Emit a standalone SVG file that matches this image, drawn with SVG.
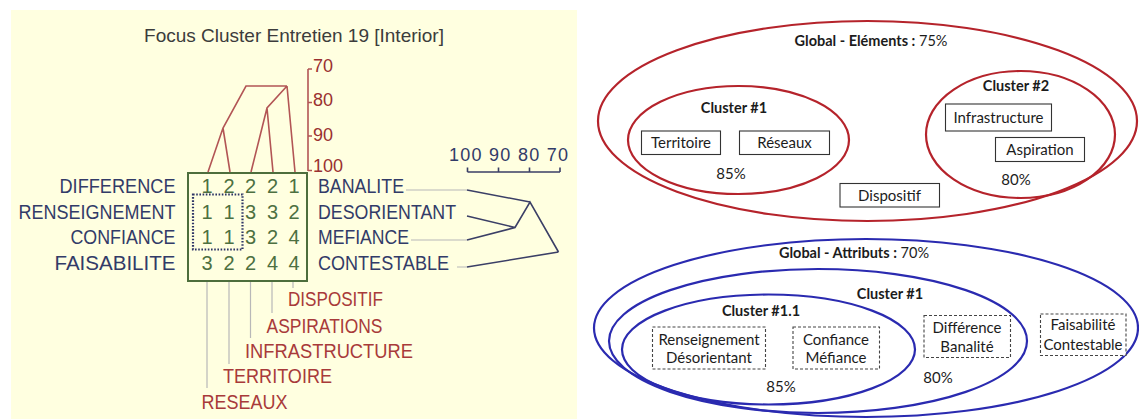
<svg xmlns="http://www.w3.org/2000/svg" width="1139" height="419" viewBox="0 0 1139 419">
<style>
.lt{font-family:"Liberation Sans",Arial,sans-serif;font-size:20px}
.ax{font-family:"Liberation Sans",Arial,sans-serif;font-size:18px}
.nav{fill:#323b68}
.grn{fill:#4d7040}
.red{fill:#a83a3a}
.axr{fill:#9a3030}
.dr{stroke:#b25555;stroke-width:1.6;fill:none}
.dn{stroke:#3b3f66;stroke-width:1.6;fill:none}
.gl{stroke:#b8b8b8;stroke-width:1.2;fill:none}
.rt{font-family:Lato,"Open Sans",sans-serif;font-size:15px;fill:#1c1c1c}
.hd{font-size:14.5px}
.b{font-weight:bold}
.er{fill:none;stroke:#b5232b;stroke-width:2.2}
.eb{fill:none;stroke:#2a2ab0;stroke-width:2.2}
.bx{fill:#fff;stroke:#333;stroke-width:1.1}
.dbx{fill:#fff;stroke:#444;stroke-width:1.1;stroke-dasharray:3 2}
</style>
<rect x="11" y="10" width="566" height="409" fill="#ffffe0"/>
<text x="294" y="42" text-anchor="middle" font-family="Liberation Sans, Arial, sans-serif" font-size="19" fill="#3c3c3c">Focus Cluster Entretien 19 [Interior]</text>

<g id="matrix">
<rect x="188" y="173" width="119" height="108" fill="none" stroke="#4d6e3c" stroke-width="2"/>
<rect x="193" y="194.5" width="49.5" height="55" fill="none" stroke="#2e3566" stroke-width="2.2" stroke-dasharray="1.6 1.6"/>
<g class="lt grn" text-anchor="middle">
<text x="207" y="193">1</text><text x="229" y="193">2</text><text x="250.5" y="193">2</text><text x="272.5" y="193">2</text><text x="294" y="193">1</text>
<text x="207" y="219">1</text><text x="229" y="219">1</text><text x="250.5" y="219">3</text><text x="272.5" y="219">3</text><text x="294" y="219">2</text>
<text x="207" y="244">1</text><text x="229" y="244">1</text><text x="250.5" y="244">3</text><text x="272.5" y="244">2</text><text x="294" y="244">4</text>
<text x="207" y="270">3</text><text x="229" y="270">2</text><text x="250.5" y="270">2</text><text x="272.5" y="270">4</text><text x="294" y="270">4</text>
</g>
</g>

<g id="row-labels" class="lt nav">
<text x="175.5" y="193" text-anchor="end" textLength="116" lengthAdjust="spacingAndGlyphs">DIFFERENCE</text>
<text x="175.5" y="219" text-anchor="end" textLength="157" lengthAdjust="spacingAndGlyphs">RENSEIGNEMENT</text>
<text x="175.5" y="244" text-anchor="end" textLength="105" lengthAdjust="spacingAndGlyphs">CONFIANCE</text>
<text x="175.5" y="270" text-anchor="end" textLength="121" lengthAdjust="spacingAndGlyphs">FAISABILITE</text>
<text x="318" y="193" textLength="86" lengthAdjust="spacingAndGlyphs">BANALITE</text>
<text x="318" y="219" textLength="138" lengthAdjust="spacingAndGlyphs">DESORIENTANT</text>
<text x="318" y="244" textLength="91" lengthAdjust="spacingAndGlyphs">MEFIANCE</text>
<text x="318" y="270" textLength="131" lengthAdjust="spacingAndGlyphs">CONTESTABLE</text>
</g>

<g id="col-labels" class="lt red">
<text x="288" y="306" textLength="95" lengthAdjust="spacingAndGlyphs">DISPOSITIF</text>
<text x="266.5" y="333" textLength="116" lengthAdjust="spacingAndGlyphs">ASPIRATIONS</text>
<text x="245" y="358" textLength="168" lengthAdjust="spacingAndGlyphs">INFRASTRUCTURE</text>
<text x="223" y="383" textLength="109" lengthAdjust="spacingAndGlyphs">TERRITOIRE</text>
<text x="201.5" y="409" textLength="86" lengthAdjust="spacingAndGlyphs">RESEAUX</text>
</g>

<g id="col-axis">
<path class="dr" d="M308 69V171M308 69h4M308 102.5h4M308 136h4M308 170.5h4" stroke="#9a3030"/>
<g class="ax axr">
<text x="313" y="72">70</text><text x="313" y="105.5">80</text><text x="313" y="141">90</text><text x="313" y="172">100</text>
</g>
</g>

<g id="row-axis">
<path class="dn" d="M467.5 172H560M467.5 167.5V172M498.5 167.5V172M529.5 167.5V172M560 167.5V172"/>
<text class="ax nav" x="449" y="161" textLength="119" lengthAdjust="spacing">100 90 80 70</text>
</g>

<g id="connectors">
<path class="dr" d="M208 172L223 128L246 86H287M230 172L223 128M251 172L267 108L287 86M273 172L267 108M295 172L287 86"/>
<path class="gl" d="M406 190H467M411 240H467M457 267H467"/>
<path class="dn" d="M467 190L530 202M467 216L515 227.5M467 240L515 227.5L530 202L558.5 252M467 267L558.5 252"/>
<path class="gl" d="M207 282V388M229 282V364M250.5 282V338M272 282V313M293 282V288"/>
</g>

<g id="global-elements">
<ellipse class="er" cx="867.5" cy="121" rx="269.5" ry="100"/>
<text class="rt hd" x="871" y="46" text-anchor="middle"><tspan class="b">Global - Eléments :</tspan> 75%</text>
</g>
<g id="cluster1-elements">
<ellipse class="er" cx="738.5" cy="140" rx="110.5" ry="54"/>
<text class="rt hd b" x="734" y="113" text-anchor="middle">Cluster #1</text>
<text class="rt" x="731" y="179" text-anchor="middle">85%</text>
</g>
<g id="territoire">
<rect class="bx" x="641.5" y="131" width="79" height="23.5"/>
<text class="rt" x="681" y="148" text-anchor="middle">Territoire</text>
</g>
<g id="reseaux">
<rect class="bx" x="739.5" y="131" width="90" height="23.5"/>
<text class="rt" x="784.5" y="148" text-anchor="middle">Réseaux</text>
</g>
<g id="cluster2-elements">
<ellipse class="er" cx="1020.5" cy="134.5" rx="94.5" ry="63.5"/>
<text class="rt hd b" x="1016" y="91" text-anchor="middle">Cluster #2</text>
<text class="rt" x="1016" y="185" text-anchor="middle">80%</text>
</g>
<g id="infrastructure">
<rect class="bx" x="945.5" y="104" width="106" height="27"/>
<text class="rt" x="998.5" y="122.5" text-anchor="middle">Infrastructure</text>
</g>
<g id="aspiration">
<rect class="bx" x="995.5" y="137.5" width="89" height="24"/>
<text class="rt" x="1040" y="155" text-anchor="middle">Aspiration</text>
</g>
<g id="dispositif">
<rect class="bx" x="840" y="183.5" width="99.5" height="23.5"/>
<text class="rt" x="889.5" y="200.5" text-anchor="middle">Dispositif</text>
</g>

<g id="global-attributs">
<ellipse class="eb" cx="866" cy="328" rx="272" ry="89"/>
<text class="rt hd" x="854" y="258" text-anchor="middle"><tspan class="b">Global - Attributs :</tspan> 70%</text>
</g>
<g id="cluster1-attributs">
<ellipse class="eb" cx="818" cy="341" rx="209" ry="72"/>
<text class="rt hd b" x="890" y="298.5" text-anchor="middle">Cluster #1</text>
<text class="rt" x="938" y="382.5" text-anchor="middle">80%</text>
</g>
<g id="cluster11-attributs">
<ellipse class="eb" cx="768.5" cy="349.5" rx="146.5" ry="55"/>
<text class="rt hd b" x="761" y="315.5" text-anchor="middle">Cluster #1.1</text>
<text class="rt" x="781" y="392" text-anchor="middle">85%</text>
</g>
<g id="renseignement-desorientant">
<rect class="dbx" x="652.5" y="327" width="113" height="42"/>
<text class="rt" x="709" y="344.5" text-anchor="middle">Renseignement</text>
<text class="rt" x="709" y="363" text-anchor="middle">Désorientant</text>
</g>
<g id="confiance-mefiance">
<rect class="dbx" x="793" y="327" width="86.5" height="42"/>
<text class="rt" x="836" y="344.5" text-anchor="middle">Confiance</text>
<text class="rt" x="836" y="363" text-anchor="middle">Méfiance</text>
</g>
<g id="difference-banalite">
<rect class="dbx" x="924" y="315.5" width="86.5" height="42"/>
<text class="rt" x="967" y="333" text-anchor="middle">Différence</text>
<text class="rt" x="967" y="352" text-anchor="middle">Banalité</text>
</g>
<g id="faisabilite-contestable">
<rect class="dbx" x="1040.5" y="314" width="85.5" height="41.5"/>
<text class="rt" x="1083" y="330" text-anchor="middle">Faisabilité</text>
<text class="rt" x="1083" y="349.5" text-anchor="middle">Contestable</text>
</g>
</svg>
